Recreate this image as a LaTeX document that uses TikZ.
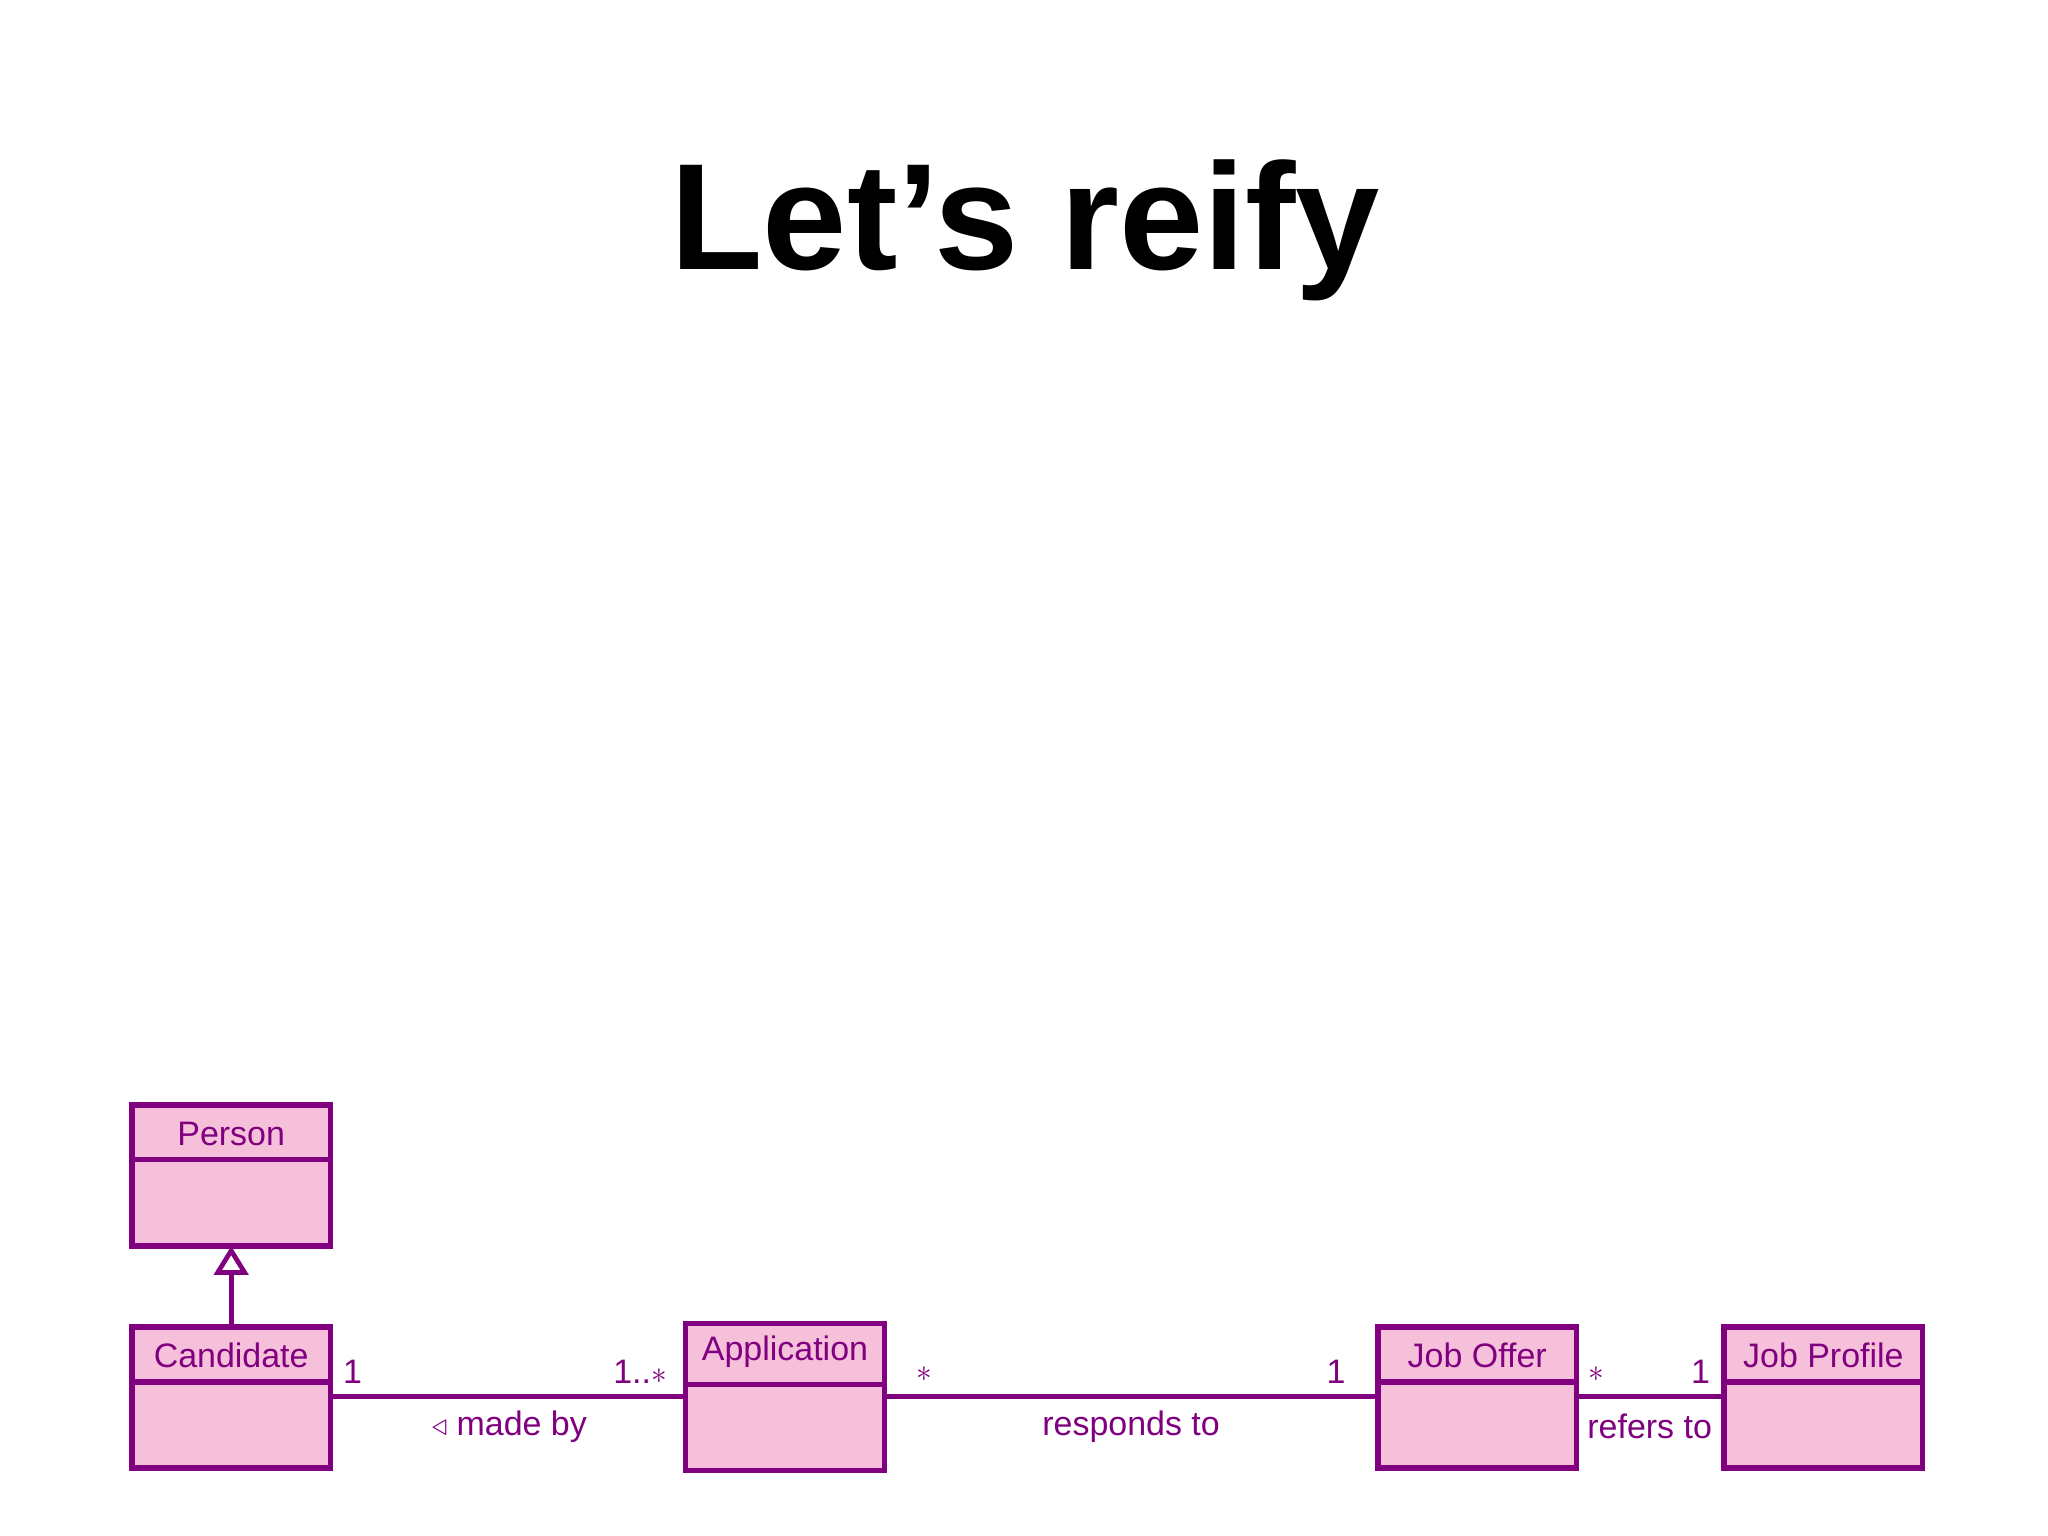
\documentclass[tikz,border=0pt]{standalone}
\usepackage{fontspec}
\setmainfont{Liberation Sans}
\usetikzlibrary{arrows.meta}
\definecolor{pur}{HTML}{800080}
\definecolor{pk}{HTML}{F6C0DA}
\begin{document}
\begin{tikzpicture}[x=0.5pt,y=-0.5pt,
  cls/.style={draw=pur,fill=pk,line width=2pt},
  lbl/.style={text=pur,font=\fontsize{13}{15}\selectfont,inner sep=0pt},
  assoc/.style={draw=pur,line width=1.8pt}]
\useasboundingbox (0,0) rectangle (1568,1176);
\node[font=\fontsize{58}{62}\selectfont\bfseries] (title) at (785,176) {Let’s reify};
% boxes
\newcommand{\umlbox}[6]{% name, x1,y1,x2,y2,ydiv
  \draw[cls] (#2,#3) rectangle (#4,#5);
  \draw[draw=pur,line width=2pt] (#2,#6) -- (#4,#6);
  \coordinate (#1-nw) at (#2,#3);
  \coordinate (#1-se) at (#4,#5);
  \coordinate (#1-w) at (#2,1069);
  \coordinate (#1-e) at (#4,1069);
  \coordinate (#1-n) at ({(#2+#4)/2},#3);
  \coordinate (#1-s) at ({(#2+#4)/2},#5);}
\umlbox{per}{101}{846}{253}{954}{888}
\umlbox{can}{101}{1016}{253}{1124}{1058}
\umlbox{app}{525}{1013}{677}{1126}{1060}
\umlbox{job}{1055}{1016}{1207}{1124}{1058}
\umlbox{pro}{1320}{1016}{1472}{1124}{1058}
\node[lbl] (tper) at (177,868) {Person};
\node[lbl] (tcan) at (177,1038) {Candidate};
\node[lbl] (tapp) at (601,1035) {Application};
\node[lbl] (tjob) at (1131,1038) {Job Offer};
\node[lbl] (tpro) at (1396,1038) {Job Profile};
% connectors
\draw[assoc,-{Triangle[open,length=11pt,width=13pt,line width=1.8pt]}] (can-n) -- (per-s);
\draw[assoc] (can-e) -- (app-w);
\draw[assoc] (app-e) -- (job-w);
\draw[assoc] (job-e) -- (pro-w);
% labels
\node[lbl] (m1) at (270,1050) {1};
\node[lbl] (m2) at (490,1050) {1..$*$};
\node[lbl] (a1) at (390,1092) {$\triangleleft$ made by};
\node[lbl] (m3) at (708,1052) {$*$};
\node[lbl] (m4) at (1023,1050) {1};
\node[lbl] (a2) at (866,1092) {responds to};
\node[lbl] (m5) at (1222,1052) {$*$};
\node[lbl] (m6) at (1302,1050) {1};
\node[lbl] (a3) at (1263,1092) {refers to};
\end{tikzpicture}
\end{document}
